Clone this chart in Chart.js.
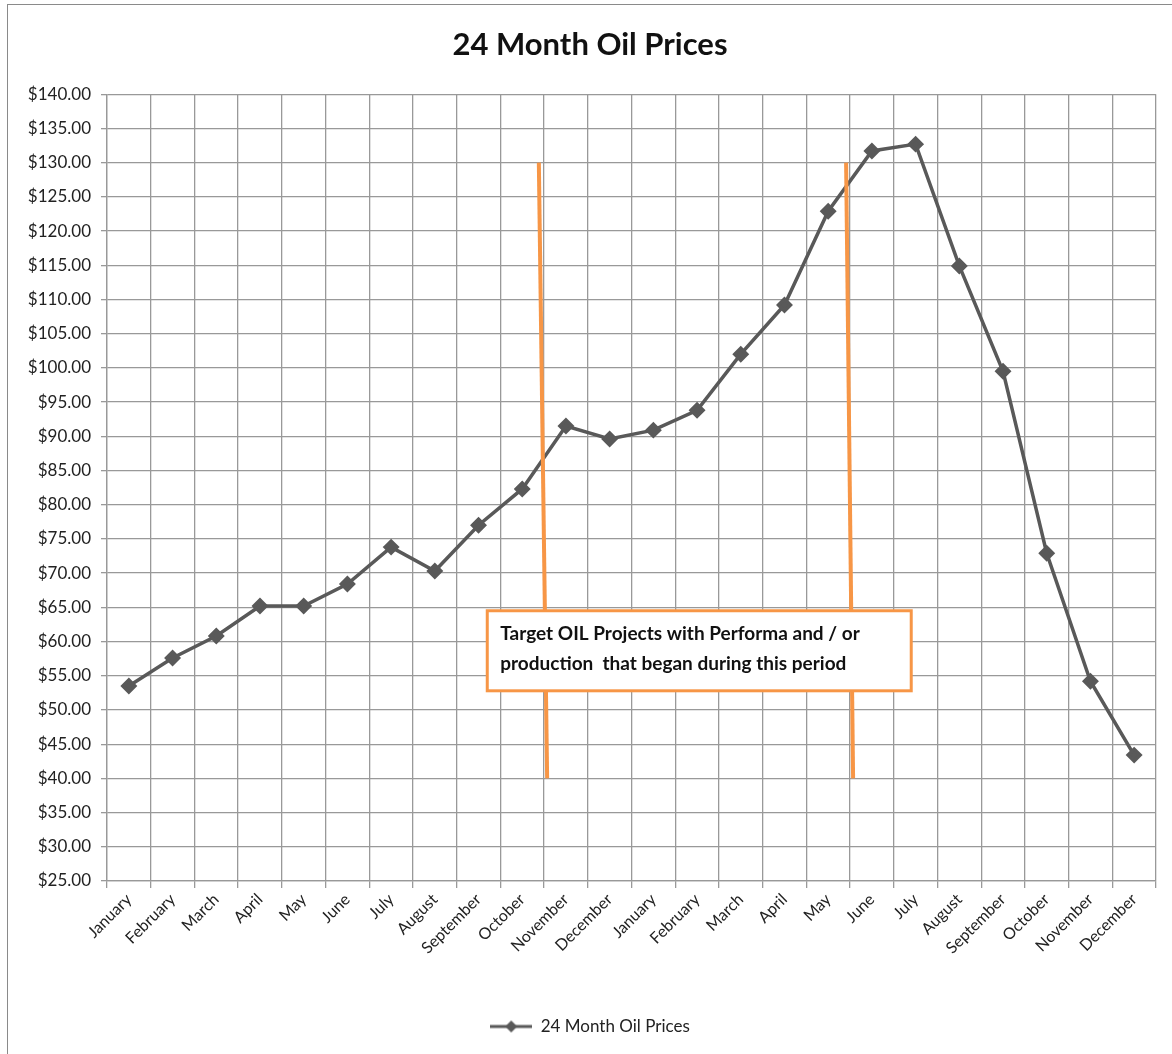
<!DOCTYPE html>
<html>
<head>
<meta charset="utf-8">
<script src="https://cdn.jsdelivr.net/npm/chart.js@4"></script>
<style>
  html, body { margin: 0; padding: 0; background: #fff; }
  #frame {
    position: absolute; left: 7px; top: 4px;
    width: 1164px; height: 1049px;
    border: 1px solid #8a8a8a; border-right: none; border-bottom: none;
  }
  #wrap { position: absolute; left: 8px; top: 5px; width: 1164px; height: 1049px; }
</style>
</head>
<body>
<div id="frame"></div>
<div id="wrap"><canvas id="oilChart"></canvas></div>
<script>
const months = ['January', 'February', 'March', 'April', 'May', 'June', 'July', 'August',
  'September', 'October', 'November', 'December', 'January', 'February', 'March', 'April',
  'May', 'June', 'July', 'August', 'September', 'October', 'November', 'December'];

const oilPrices = [53.5, 57.6, 60.8, 65.2, 65.2, 68.4, 73.8, 70.3, 77.0, 82.3, 91.5, 89.6,
  90.9, 93.8, 102.0, 109.2, 122.9, 131.7, 132.7, 114.9, 99.5, 72.9, 54.2, 43.4];

// orange period markers (category index positions, top and bottom)
const markerStartX = [9.38, 9.57];
const markerEndX = [16.41, 16.57];
const markerY = [130, 40];

// annotation box (category index / price units)
const noteLines = ['Target OIL Projects with Performa and / or', 'production  that began during this period'];
const noteX = [8.2, 17.9];
const noteY = [64.5, 52.8];

const FONT = 'Lato, "Open Sans", sans-serif';
const gridColor = '#999999';
const lineColor = '#595959';
const orange = '#f79646';

// legend swatch: line with a diamond
const swatch = document.createElement('canvas');
swatch.width = 42; swatch.height = 14;
(() => {
  const c = swatch.getContext('2d');
  c.strokeStyle = lineColor; c.lineWidth = 3;
  c.beginPath(); c.moveTo(0, 7); c.lineTo(42, 7); c.stroke();
  c.fillStyle = lineColor;
  c.beginPath(); c.moveTo(21, 1); c.lineTo(27, 7); c.lineTo(21, 13); c.lineTo(15, 7); c.closePath(); c.fill();
})();

const notePlugin = {
  id: 'noteBox',
  afterDatasetsDraw(chart) {
    const xs = chart.scales.x2, ys = chart.scales.y, ctx = chart.ctx;
    const l = xs.getPixelForValue(noteX[0]), r = xs.getPixelForValue(noteX[1]);
    const t = ys.getPixelForValue(noteY[0]), b = ys.getPixelForValue(noteY[1]);
    ctx.save();
    ctx.fillStyle = '#fff';
    ctx.fillRect(l, t, r - l, b - t);
    ctx.strokeStyle = orange; ctx.lineWidth = 3;
    ctx.strokeRect(l, t, r - l, b - t);
    ctx.fillStyle = '#111';
    ctx.font = 'bold 19px ' + FONT;
    ctx.textBaseline = 'middle';
    ctx.fillText(noteLines[0], l + 13, t + 23);
    ctx.fillText(noteLines[1], l + 13, t + 53);
    ctx.restore();
  }
};

new Chart(document.getElementById('oilChart'), {
  type: 'line',
  data: {
    labels: months,
    datasets: [{
      label: '24 Month Oil Prices',
      data: oilPrices,
      borderColor: lineColor,
      backgroundColor: lineColor,
      borderWidth: 3.5,
      pointStyle: 'rectRot',
      pointRadius: 6,
      pointHoverRadius: 6,
      tension: 0,
      order: 2
    }, {
      label: 'start',
      data: markerY.map((y, i) => ({ x: markerStartX[i], y })),
      xAxisID: 'x2',
      borderColor: orange,
      borderWidth: 4,
      pointRadius: 0,
      order: 1
    }, {
      label: 'end',
      data: markerY.map((y, i) => ({ x: markerEndX[i], y })),
      xAxisID: 'x2',
      borderColor: orange,
      borderWidth: 4,
      pointRadius: 0,
      order: 1
    }]
  },
  options: {
    responsive: true,
    maintainAspectRatio: false,
    animation: false,
    layout: { padding: { left: 16, right: 16, top: 0, bottom: 9 } },
    plugins: {
      title: {
        display: true,
        text: '24 Month Oil Prices',
        color: '#111',
        font: { family: FONT, size: 31, weight: 'bold' },
        padding: { top: 21, bottom: 31 }
      },
      legend: {
        position: 'bottom',
        labels: {
          usePointStyle: true,
          pointStyleWidth: 42,
          color: '#222',
          padding: 10,
          font: { family: FONT, size: 17 },
          generateLabels: chart => [{
            text: '24 Month Oil Prices',
            pointStyle: swatch,
            fontColor: '#222',
            datasetIndex: 0
          }]
        }
      },
      tooltip: { enabled: false }
    },
    scales: {
      x: {
        type: 'category',
        offset: true,
        grid: { color: gridColor, lineWidth: 1.3, offset: true, tickLength: 7 },
        border: { color: gridColor, width: 1.3 },
        ticks: {
          color: '#222',
          font: { family: FONT, size: 16 },
          maxRotation: 45,
          minRotation: 45,
          autoSkip: false,
          padding: 2
        },
        afterFit: scale => { scale.height = 127; }
      },
      x2: {
        type: 'linear',
        display: false,
        min: -0.5,
        max: 23.5
      },
      y: {
        min: 25,
        max: 140,
        grid: { color: gridColor, lineWidth: 1.3, tickLength: 6 },
        border: { color: gridColor, width: 1.3 },
        ticks: {
          stepSize: 5,
          color: '#222',
          font: { family: FONT, size: 17 },
          padding: 10,
          callback: v => '$' + Number(v).toFixed(2)
        },
        afterFit: scale => { scale.width = 83; }
      }
    }
  },
  plugins: [notePlugin]
});
</script>
</body>
</html>
